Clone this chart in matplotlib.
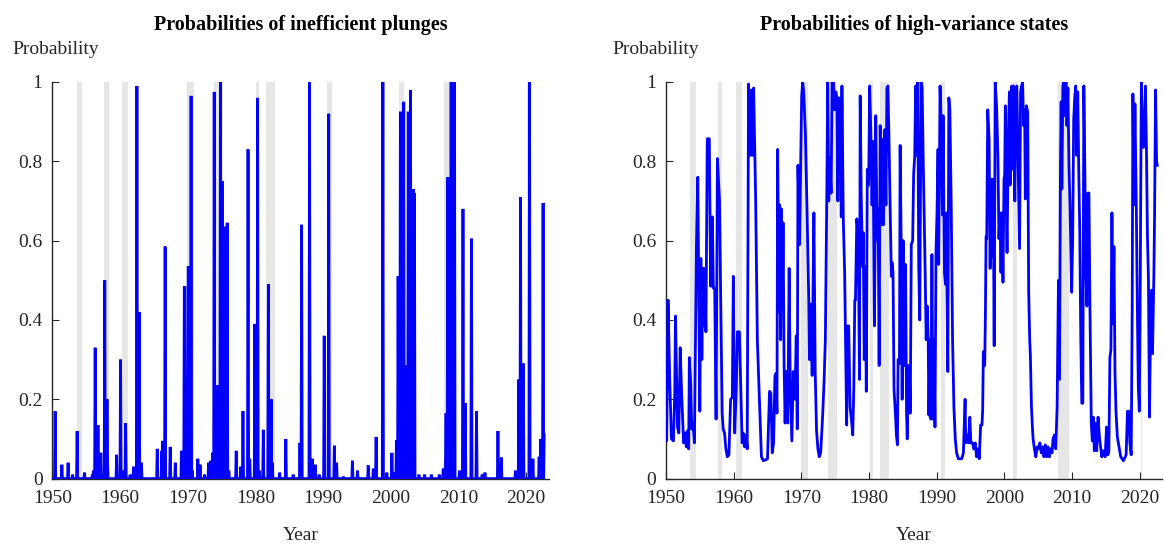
import numpy as np
import matplotlib
matplotlib.use("Agg")
import matplotlib.pyplot as plt

plt.rcParams['font.family'] = ['Liberation Serif', 'DejaVu Serif']

# ---------------- data ----------------
# NBER recessions (start, end) in decimal years
recession_start = [1953.58, 1957.67, 1960.33, 1969.92, 1973.92, 1980.08, 1981.58, 1990.58, 2001.25, 2007.92, 2020.17]
recession_end   = [1954.37, 1958.33, 1961.17, 1970.92, 1975.25, 1980.58, 1982.92, 1991.25, 2001.92, 2009.50, 2020.33]

# Left panel: monthly probabilities of inefficient plunges (non-listed months ~0)
plunge_years = [1950.45, 1951.45, 1952.35, 1953.0, 1953.7, 1954.75, 1955.9, 1956.1, 1956.35, 1956.5,
                1956.75, 1957.15, 1957.4, 1957.75, 1958.05, 1958.2, 1959.5, 1960.05, 1960.3, 1960.8,
                1961.5, 1962.0, 1962.5, 1962.85, 1963.2, 1965.5, 1966.2, 1966.35, 1966.65, 1967.4,
                1968.2, 1969.1, 1969.5, 1969.6, 1970.05, 1970.5, 1970.7, 1971.5, 1971.8, 1972.5,
                1973.1, 1973.4, 1973.7, 1973.95, 1974.2, 1974.35, 1974.5, 1974.82, 1975.1, 1975.3,
                1975.56, 1975.86, 1976.1, 1977.2, 1977.8, 1978.2, 1978.9, 1979.15, 1979.9, 1980.3,
                1980.6, 1981.2, 1981.9, 1982.3, 1982.5, 1983.6, 1984.5, 1985.6, 1986.55, 1986.83,
                1987.97, 1988.4, 1988.8, 1989.4, 1990.2, 1990.87, 1991.65, 1992.0, 1993.0, 1994.36,
                1995.05, 1996.7, 1997.4, 1997.8, 1998.8, 1999.4, 2000.2, 2000.6, 2000.86, 2001.06,
                2001.4, 2001.9, 2002.3, 2002.6, 2002.9, 2003.33, 2003.5, 2004.2, 2005.0, 2006.0,
                2007.2, 2007.76, 2008.05, 2008.2, 2008.45, 2008.6, 2008.94, 2009.1, 2009.33, 2009.45,
                2010.2, 2010.66, 2010.96, 2011.9, 2012.63, 2013.5, 2013.9, 2015.83, 2016.3, 2018.4,
                2018.93, 2019.2, 2019.6, 2020.46, 2021.0, 2021.9, 2022.13, 2022.5, 2022.7]
plunge_probs = [0.17, 0.035, 0.04, 0.01, 0.12, 0.015, 0.01, 0.02, 0.33, 0.02,
                0.135, 0.065, 0.01, 0.50, 0.20, 0.04, 0.06, 0.30, 0.02, 0.14,
                0.01, 0.03, 0.99, 0.42, 0.04, 0.075, 0.07, 0.095, 0.585, 0.08,
                0.04, 0.07, 0.48, 0.485, 0.535, 0.965, 0.02, 0.05, 0.035, 0.01,
                0.04, 0.045, 0.065, 0.975, 0.06, 0.235, 0.16, 1.0, 0.75, 0.02,
                0.635, 0.645, 0.02, 0.07, 0.03, 0.17, 0.83, 0.05, 0.39, 0.96,
                0.02, 0.123, 0.49, 0.20, 0.04, 0.015, 0.10, 0.01, 0.09, 0.64,
                1.0, 0.05, 0.035, 0.01, 0.36, 0.92, 0.083, 0.04, 0.005, 0.045,
                0.02, 0.033, 0.025, 0.105, 1.0, 0.015, 0.065, 0.015, 0.097, 0.51,
                0.925, 0.95, 0.285, 0.925, 0.98, 0.73, 0.72, 0.01, 0.01, 0.01,
                0.01, 0.025, 0.045, 0.165, 0.76, 0.76, 1.0, 0.23, 1.0, 1.0,
                0.02, 0.68, 0.19, 0.605, 0.17, 0.01, 0.015, 0.12, 0.053, 0.02,
                0.25, 0.71, 0.29, 1.0, 0.05, 0.055, 0.10, 0.695, 0.11]

# Right panel: probabilities of high-variance states
hv_years = [1950.0, 1950.1, 1950.3, 1950.55, 1950.8, 1951.1, 1951.3, 1951.4, 1951.7, 1951.9,
            1952.1, 1952.3, 1952.6, 1952.8, 1953.0, 1953.15, 1953.35, 1953.45, 1953.65, 1953.8,
            1954.0, 1954.2, 1954.5, 1954.7, 1955.0, 1955.15, 1955.3, 1955.45, 1955.6, 1955.7,
            1955.9, 1956.1, 1956.4, 1956.6, 1956.85, 1957.0, 1957.2, 1957.4, 1957.6, 1957.9,
            1958.1, 1958.3, 1958.45, 1958.65, 1958.85, 1959.06, 1959.3, 1959.55, 1959.8, 1959.95,
            1960.15, 1960.4, 1960.55, 1960.85, 1961.05, 1961.25, 1961.4, 1961.6, 1961.85, 1962.0,
            1962.2, 1962.5, 1962.65, 1962.8, 1962.95, 1963.25, 1963.5, 1963.9, 1964.1, 1964.4,
            1965.0, 1965.3, 1965.5, 1965.7, 1965.9, 1966.1, 1966.25, 1966.4, 1966.5, 1966.7,
            1966.8, 1966.95, 1967.05, 1967.2, 1967.3, 1967.45, 1967.6, 1967.75, 1968.0, 1968.2,
            1968.35, 1968.6, 1968.8, 1969.05, 1969.25, 1969.4, 1969.5, 1969.75, 1969.9, 1970.05,
            1970.2, 1970.35, 1970.6, 1970.85, 1971.1, 1971.2, 1971.4, 1971.6, 1971.7, 1971.86,
            1972.05, 1972.25, 1972.45, 1972.65, 1972.85, 1973.05, 1973.15, 1973.35, 1973.55, 1973.75,
            1973.9, 1974.05, 1974.2, 1974.4, 1974.55, 1974.75, 1974.9, 1975.1, 1975.25, 1975.4,
            1975.55, 1975.8, 1975.9, 1976.0, 1976.2, 1976.4, 1976.6, 1976.7, 1976.85, 1977.0,
            1977.2, 1977.4, 1977.6, 1977.75, 1977.9, 1978.0, 1978.2, 1978.4, 1978.6, 1978.7,
            1978.85, 1979.05, 1979.15, 1979.3, 1979.45, 1979.6, 1979.75, 1979.95, 1980.1, 1980.3,
            1980.45, 1980.6, 1980.8, 1980.9, 1981.0, 1981.2, 1981.35, 1981.5, 1981.65, 1981.85,
            1982.0, 1982.15, 1982.35, 1982.5, 1982.65, 1982.8, 1982.95, 1983.1, 1983.3, 1983.4,
            1983.55, 1983.7, 1983.9, 1984.05, 1984.2, 1984.3, 1984.5, 1984.6, 1984.75, 1984.9,
            1985.05, 1985.2, 1985.4, 1985.55, 1985.65, 1985.8, 1985.95, 1986.1, 1986.25, 1986.45,
            1986.6, 1986.75, 1986.9, 1987.05, 1987.2, 1987.35, 1987.5, 1987.7, 1987.85, 1988.0,
            1988.15, 1988.3, 1988.45, 1988.6, 1988.75, 1988.85, 1989.0, 1989.15, 1989.3, 1989.45,
            1989.6, 1989.75, 1989.9, 1990.05, 1990.2, 1990.3, 1990.5, 1990.7, 1990.85, 1990.95,
            1991.15, 1991.3, 1991.4, 1991.5, 1991.65, 1991.8, 1991.95, 1992.15, 1992.35, 1992.55,
            1992.75, 1992.95, 1993.2, 1993.7, 1993.95, 1994.2, 1994.3, 1994.5, 1994.7, 1994.9,
            1995.05, 1995.3, 1995.5, 1995.7, 1995.9, 1996.1, 1996.3, 1996.5, 1996.7, 1996.8,
            1996.9, 1997.1, 1997.2, 1997.3, 1997.4, 1997.55, 1997.75, 1997.9, 1998.05, 1998.2,
            1998.35, 1998.5, 1998.65, 1998.85, 1999.05, 1999.2, 1999.35, 1999.5, 1999.65, 1999.8,
            1999.95, 2000.05, 2000.15, 2000.25, 2000.4, 2000.6, 2000.75, 2000.85, 2001.0, 2001.1,
            2001.2, 2001.35, 2001.45, 2001.55, 2001.7, 2001.85, 2002.0, 2002.15, 2002.25, 2002.4,
            2002.55, 2002.7, 2002.85, 2003.0, 2003.1, 2003.25, 2003.45, 2003.6, 2003.75, 2003.85,
            2004.0, 2004.15, 2004.25, 2004.45, 2004.65, 2004.85, 2005.05, 2005.25, 2005.45, 2005.65,
            2005.85, 2006.05, 2006.25, 2006.45, 2006.65, 2006.85, 2007.05, 2007.2, 2007.4, 2007.6,
            2007.8, 2008.0, 2008.15, 2008.3, 2008.4, 2008.5, 2008.65, 2008.8, 2008.95, 2009.1,
            2009.25, 2009.4, 2009.55, 2009.7, 2009.8, 2009.95, 2010.1, 2010.25, 2010.4, 2010.55,
            2010.7, 2010.85, 2011.0, 2011.15, 2011.3, 2011.45, 2011.6, 2011.75, 2011.9, 2012.05,
            2012.2, 2012.35, 2012.5, 2012.65, 2012.85, 2013.0, 2013.15, 2013.3, 2013.45, 2013.65,
            2013.85, 2014.05, 2014.4, 2014.6, 2014.9, 2015.1, 2015.3, 2015.45, 2015.6, 2015.75,
            2015.9, 2016.05, 2016.2, 2016.35, 2016.5, 2016.7, 2016.95, 2017.2, 2017.6, 2018.0,
            2018.2, 2018.4, 2018.55, 2018.75, 2018.9, 2019.0, 2019.15, 2019.3, 2019.5, 2019.65,
            2019.8, 2019.95, 2020.1, 2020.25, 2020.4, 2020.55, 2020.7, 2020.85, 2021.0, 2021.15,
            2021.3, 2021.45, 2021.6, 2021.75, 2021.9, 2022.1, 2022.2, 2022.35, 2022.5, 2022.6]
hv_probs = [0.20, 0.095, 0.45, 0.25, 0.10, 0.095, 0.22, 0.41, 0.13, 0.115,
            0.33, 0.22, 0.09, 0.115, 0.08, 0.12, 0.075, 0.305, 0.24, 0.125,
            0.14, 0.09, 0.59, 0.76, 0.17, 0.555, 0.30, 0.53, 0.385, 0.53,
            0.37, 0.857, 0.857, 0.485, 0.66, 0.48, 0.48, 0.15, 0.807, 0.705,
            0.435, 0.165, 0.125, 0.115, 0.075, 0.055, 0.06, 0.20, 0.205, 0.51,
            0.115, 0.235, 0.37, 0.37, 0.235, 0.09, 0.115, 0.08, 0.11, 0.075,
            0.995, 0.815, 0.98, 0.815, 0.985, 0.705, 0.35, 0.15, 0.055, 0.045,
            0.05, 0.22, 0.215, 0.065, 0.09, 0.26, 0.265, 0.165, 0.83, 0.42,
            0.69, 0.35, 0.68, 0.435, 0.645, 0.29, 0.14, 0.27, 0.14, 0.53,
            0.25, 0.095, 0.27, 0.20, 0.36, 0.125, 0.79, 0.59, 0.79, 0.965,
            1.0, 0.975, 0.87, 0.67, 0.45, 0.30, 0.44, 0.26, 0.435, 0.67,
            0.27, 0.12, 0.075, 0.055, 0.065, 0.125, 0.16, 0.24, 0.35, 0.69,
            1.0, 0.70, 0.81, 0.72, 1.0, 1.0, 0.93, 0.975, 0.96, 0.70,
            0.96, 0.89, 0.66, 0.99, 0.655, 0.52, 0.27, 0.135, 0.385, 0.385,
            0.18, 0.15, 0.11, 0.225, 0.45, 0.45, 0.655, 0.61, 0.25, 0.965,
            0.715, 0.535, 0.62, 0.30, 0.535, 0.22, 0.78, 0.74, 0.99, 0.85,
            0.69, 0.85, 0.385, 0.60, 0.915, 0.60, 0.68, 0.285, 0.89, 0.64,
            0.855, 0.64, 0.88, 0.69, 0.985, 0.99, 0.86, 0.715, 0.51, 0.545,
            0.52, 0.225, 0.165, 0.11, 0.085, 0.30, 0.29, 0.84, 0.605, 0.20,
            0.60, 0.285, 0.54, 0.165, 0.10, 0.285, 0.285, 0.165, 0.59, 0.60,
            0.77, 0.81, 0.99, 0.815, 1.0, 0.535, 0.40, 1.0, 0.99, 0.815,
            0.67, 0.52, 0.35, 0.435, 0.35, 0.16, 0.35, 0.15, 0.565, 0.15,
            0.35, 0.13, 0.57, 0.67, 0.83, 0.54, 0.99, 0.875, 0.665, 0.915,
            0.52, 0.49, 0.67, 0.505, 0.27, 0.96, 0.93, 0.69, 0.35, 0.18,
            0.10, 0.065, 0.05, 0.05, 0.065, 0.20, 0.09, 0.11, 0.09, 0.155,
            0.09, 0.09, 0.075, 0.09, 0.055, 0.075, 0.05, 0.135, 0.135, 0.175,
            0.32, 0.285, 0.41, 0.61, 0.605, 0.93, 0.855, 0.53, 0.755, 0.56,
            0.755, 0.335, 1.0, 0.94, 0.815, 0.605, 0.67, 0.52, 0.67, 0.495,
            0.755, 0.765, 0.94, 0.73, 0.57, 0.875, 0.975, 0.74, 0.975, 0.99,
            0.78, 0.99, 0.805, 0.70, 0.965, 0.99, 0.84, 0.705, 0.58, 0.975,
            0.99, 1.0, 0.89, 0.93, 0.705, 0.94, 0.925, 0.47, 0.35, 0.31,
            0.185, 0.13, 0.10, 0.075, 0.055, 0.08, 0.075, 0.09, 0.065, 0.08,
            0.055, 0.085, 0.055, 0.08, 0.055, 0.075, 0.065, 0.10, 0.11, 0.075,
            0.18, 0.50, 0.25, 0.80, 0.95, 0.73, 0.99, 1.0, 0.915, 1.0,
            0.89, 0.985, 0.79, 0.69, 0.605, 0.47, 0.605, 0.905, 0.96, 0.99,
            0.815, 0.975, 0.775, 0.62, 0.35, 0.19, 0.19, 0.99, 0.775, 0.52,
            0.435, 0.72, 0.72, 0.435, 0.14, 0.095, 0.155, 0.07, 0.14, 0.07,
            0.155, 0.105, 0.055, 0.07, 0.055, 0.13, 0.06, 0.07, 0.305, 0.325,
            0.67, 0.39, 0.585, 0.27, 0.17, 0.105, 0.08, 0.055, 0.045, 0.06,
            0.17, 0.17, 0.09, 0.06, 0.44, 0.97, 0.69, 0.945, 0.69, 0.44,
            0.23, 0.17, 0.54, 1.0, 0.86, 0.835, 0.905, 0.99, 0.835, 0.61,
            0.50, 0.155, 0.375, 0.475, 0.315, 0.515, 0.66, 0.98, 0.80, 0.79]

x_ticks = [1950, 1960, 1970, 1980, 1990, 2000, 2010, 2020]
y_ticks = [0, 0.2, 0.4, 0.6, 0.8, 1]
y_ticklabels = ['0', '0.2', '0.4', '0.6', '0.8', '1']
titles = ['Probabilities of inefficient plunges', 'Probabilities of high-variance states']

# monthly grid for the plunge series
n_months = 873
months = 1950 + np.arange(n_months) / 12.0
plunge_series = np.zeros(n_months)
for yr, p in zip(plunge_years, plunge_probs):
    i = int(round((yr - 1950) * 12))
    i = min(max(i, 0), n_months - 1)
    plunge_series[i] = max(plunge_series[i], p)

# ---------------- figure ----------------
W, H = 1164, 547
fig = plt.figure(figsize=(W / 100, H / 100), dpi=100)

y_bot, y_top = 478.6, 82.0
ax_h = (y_bot - y_top) / H
ax_b = 1 - y_bot / H
ax1 = fig.add_axes([52.3 / W, ax_b, (548.5 - 52.3) / W, ax_h])
ax2 = fig.add_axes([666.0 / W, ax_b, (1162.0 - 666.0) / W, ax_h])

FS = 14
for ax, title in zip([ax1, ax2], titles):
    for s, e in zip(recession_start, recession_end):
        ax.axvspan(s, e, color='#e6e6e6', lw=0, zorder=0)
    ax.set_xlim(1950, 2023.3)
    ax.set_ylim(0, 1)
    ax.set_xticks(x_ticks)
    ax.set_yticks(y_ticks)
    ax.set_yticklabels(y_ticklabels)
    for sp in ['top', 'right']:
        ax.spines[sp].set_visible(False)
    for sp in ['left', 'bottom']:
        ax.spines[sp].set_color('#262626')
        ax.spines[sp].set_linewidth(1.0)
    ax.tick_params(direction='in', length=5, width=0.8, colors='#262626',
                   labelsize=FS, labelcolor='#262626', pad=7)
    ax.tick_params(axis='x', pad=8)

ax1.plot(months, plunge_series, color='#0000ff', lw=2.0, zorder=3, solid_joinstyle='miter')
ax2.plot(hv_years, hv_probs, color='#0000ff', lw=2.0, zorder=3)

for ax, title, xlab in [(ax1, titles[0], 12), (ax2, titles[1], 612)]:
    pos = ax.get_position()
    cx = (pos.x0 + pos.x1) / 2
    fig.text(cx, 1 - 25 / H, title, ha='center', va='center', fontsize=14.5, fontweight='bold', color='black')
    fig.text(xlab / W, 1 - 50 / H, 'Probability', ha='left', va='center', fontsize=FS, color='#262626')
    fig.text(cx, 1 - 536 / H, 'Year', ha='center', va='center', fontsize=FS, color='#262626')

fig.savefig('out.png', dpi=100)
